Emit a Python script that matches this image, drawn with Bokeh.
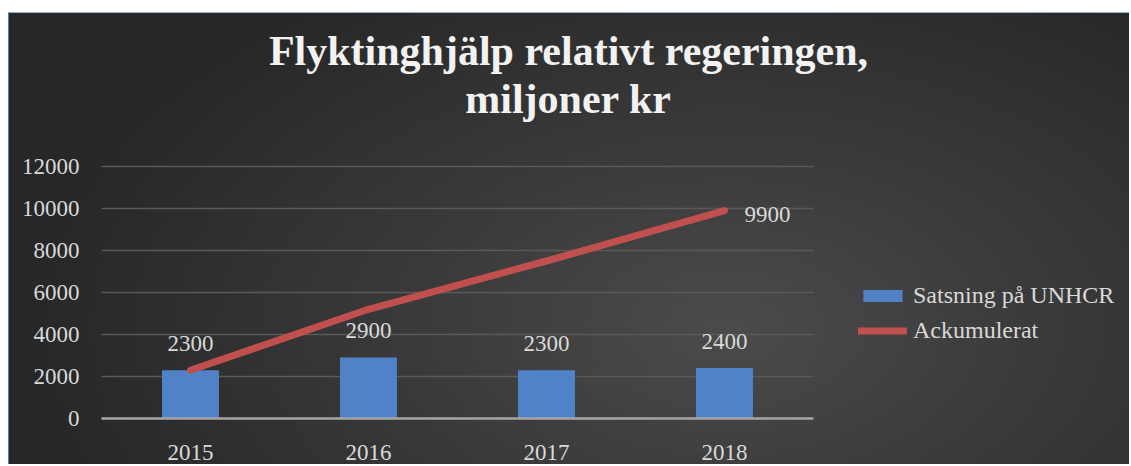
from bokeh.plotting import figure
from bokeh.models import (ColumnDataSource, Range1d, Legend, LegendItem, Label,
                          FixedTicker, NumeralTickFormatter)
from bokeh.core.properties import value
from bokeh.embed import file_html
from bokeh.resources import INLINE

# ---- data ----
years = ["2015", "2016", "2017", "2018"]
satsning = [2300, 2900, 2300, 2400]
ackumulerat = [2300, 5200, 7500, 9900]
y_ticks = [0, 2000, 4000, 6000, 8000, 10000, 12000]
title_lines = ["Flyktinghjälp relativt regeringen,", "miljoner kr"]
series_names = ["Satsning på UNHCR", "Ackumulerat"]

FONT = "Liberation Serif"
TXT = "#d9d9d9"
BAR = "#5082c7"
LINE = "#c0504d"
FS = "23px"

xpos = [i + 0.5 for i in range(len(years))]
src = ColumnDataSource(dict(
    x=xpos, sats=satsning, ack=ackumulerat,
    sats_lbl=[str(v) for v in satsning],
    ack_lbl=["" for _ in ackumulerat[:-1]] + [str(ackumulerat[-1])],
))

# geometry (pixels)
W, H = 1121, 452
LEFT, TOP, BOTTOM = 92, 0, 47
PLOT_W, PLOT_H = 712, 252          # category area / 0..12000 area
FRAME_W = W - LEFT
FRAME_H = H - TOP - BOTTOM
n = len(years)
x_end = n * FRAME_W / PLOT_W
y_end = y_ticks[-1] * FRAME_H / PLOT_H

p = figure(width=W, height=H, x_range=Range1d(0, x_end), y_range=Range1d(0, y_end),
           output_backend="svg", toolbar_location=None,
           min_border_left=LEFT, min_border_right=0, min_border_top=TOP, min_border_bottom=BOTTOM)
p.styles = {
    "background": "radial-gradient(ellipse 62% 90% at 64% 70%, #4b4b4b 0%, #3a3a3a 45%, #272727 100%)",
    "margin-top": "12px",
    "margin-left": "8px",
    "border-top": "1px solid #8db3e2",
    "border-left": "1px solid #4f81bd",
}
p.background_fill_alpha = 0
p.border_fill_alpha = 0
p.outline_line_color = None

bars = p.vbar(x="x", top="sats", width=0.32, source=src, fill_color=BAR, line_color=None)
line = p.line(x="x", y="ack", source=src, line_color=LINE, line_width=7, line_cap="round",
              line_join="round")

p.text(x="x", y="sats", text="sats_lbl", source=src, text_align="center",
       text_baseline="alphabetic", y_offset=-27, text_font=value(FONT), text_font_size=FS,
       text_color=TXT)
p.text(x="x", y="ack", text="ack_lbl", source=src, text_align="left",
       text_baseline="alphabetic", x_offset=20, y_offset=4, text_font=value(FONT),
       text_font_size=FS, text_color=TXT)

# axes
p.yaxis.ticker = FixedTicker(ticks=y_ticks)
p.yaxis.formatter = NumeralTickFormatter(format="0")
p.xaxis.ticker = FixedTicker(ticks=xpos)
p.xaxis.major_label_overrides = {x: y for x, y in zip(xpos, years)}
p.xaxis.bounds = (0, n)
for ax in (p.xaxis[0], p.yaxis[0]):
    ax.major_tick_line_color = None
    ax.minor_tick_line_color = None
    ax.major_label_text_font = FONT
    ax.major_label_text_font_size = FS
    ax.major_label_text_color = TXT
p.yaxis.axis_line_color = None
p.yaxis.major_label_standoff = 16
p.xaxis.axis_line_color = "#a6a6a6"
p.xaxis.axis_line_width = 2.5
p.xaxis.major_label_standoff = 20
p.xgrid.grid_line_color = None
p.ygrid.grid_line_color = "#5a5a5a"
p.ygrid.grid_line_width = 1.5
p.ygrid.cross_bounds = (0, n)

# title (screen units, relative to frame's lower-left corner)
for t, yy in zip(title_lines, [368, 320]):
    p.add_layout(Label(x=467, y=yy, x_units="screen", y_units="screen", text=t,
                       text_align="center", text_baseline="alphabetic",
                       text_font=FONT, text_font_size="42px", text_font_style="bold",
                       text_color="#f2f2f2"))

legend = Legend(items=[LegendItem(label=series_names[0], renderers=[bars]),
                       LegendItem(label=series_names[1], renderers=[line])],
                location=(757, 74), padding=0, margin=0, spacing=8,
                glyph_width=49, glyph_height=15, label_standoff=6,
                label_text_font=FONT, label_text_font_size="24px",
                label_text_color=TXT, border_line_color=None,
                background_fill_alpha=0)
p.add_layout(legend, "center")

open("out.html", "w").write(file_html(p, INLINE))
